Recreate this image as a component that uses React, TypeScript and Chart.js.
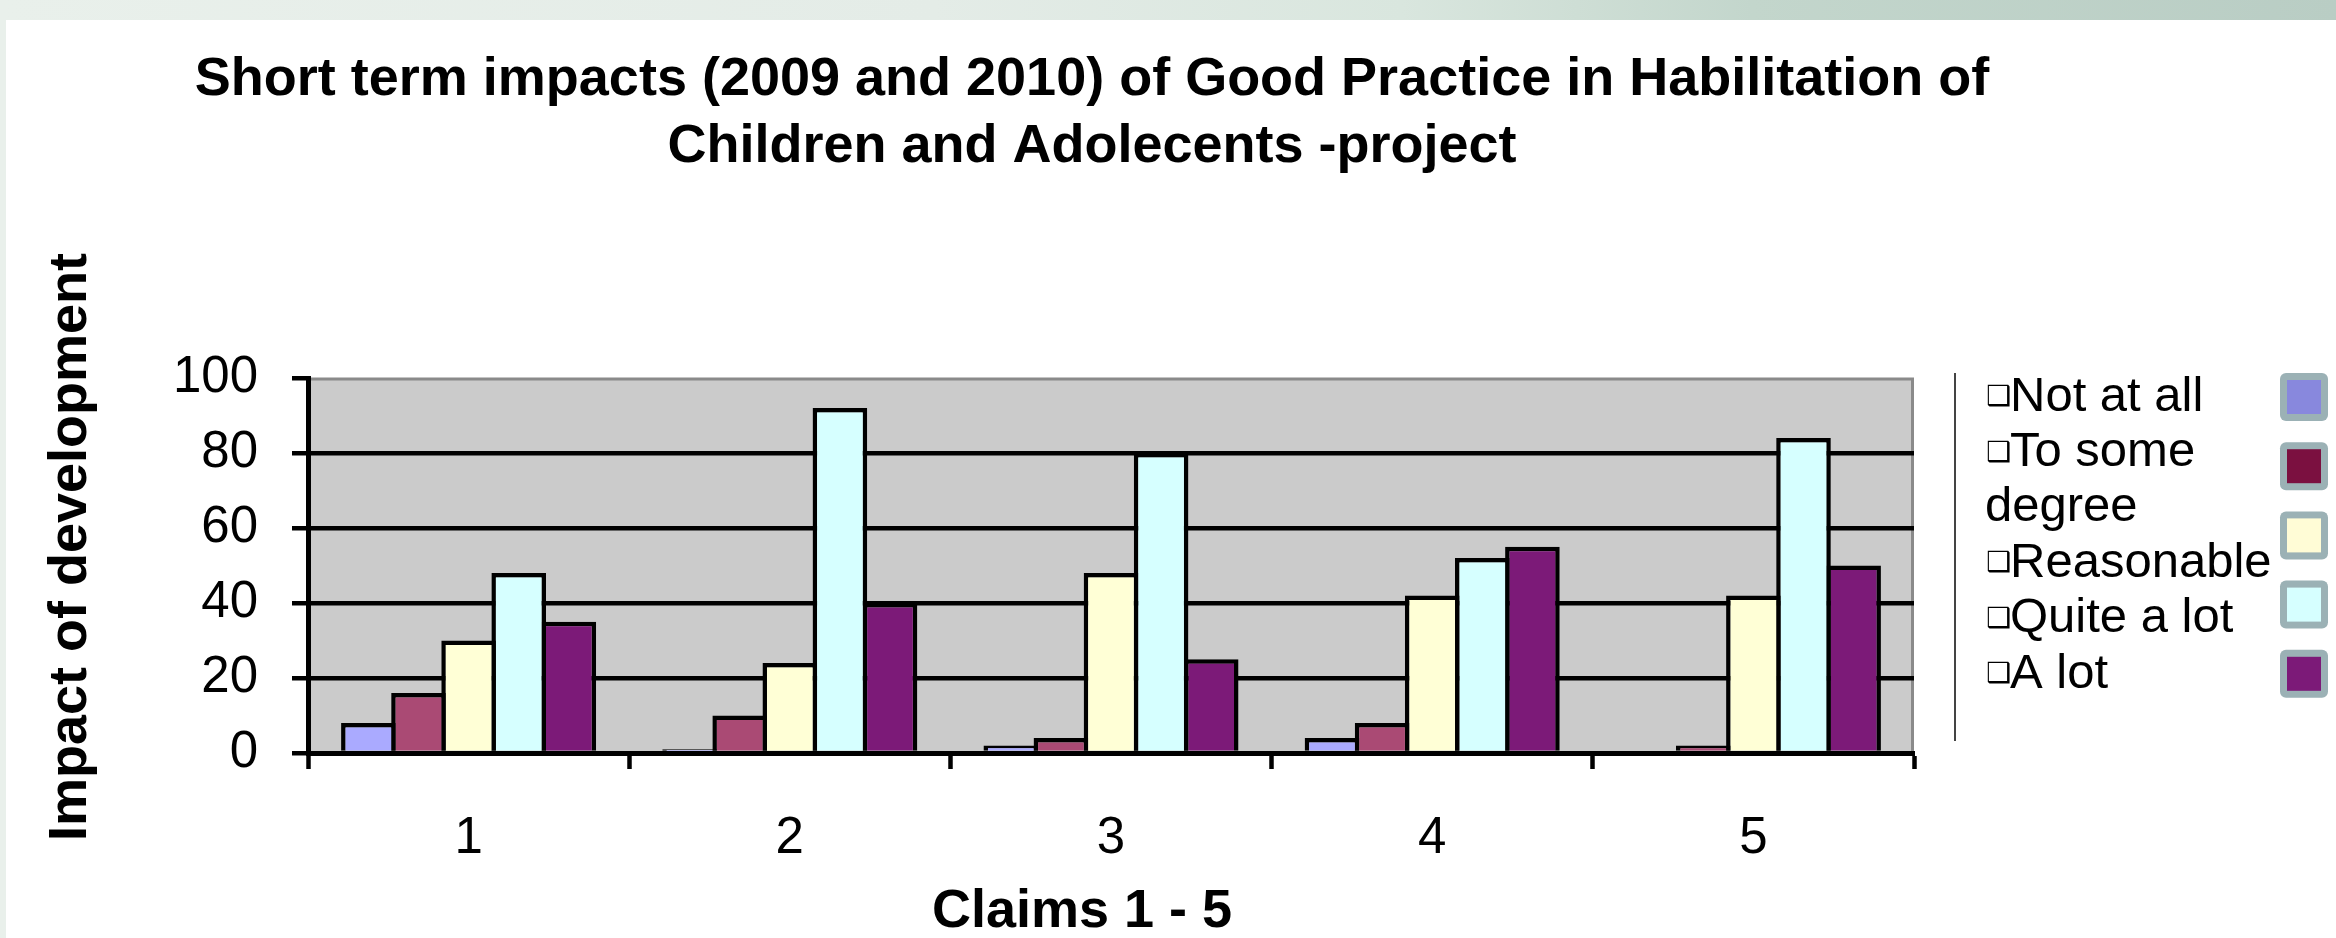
import React, { useEffect, useRef } from "react";
import { Chart, registerables } from "chart.js";

Chart.register(...registerables);

// ---- data ----
const claims = ["1", "2", "3", "4", "5"];
const seriesNames = ["Not at all", "To some degree", "Reasonable", "Quite a lot", "A lot"];
const notAtAll = [8, 1, 2, 4, 0];
const toSomeDegree = [16, 10, 4, 8, 2];
const reasonable = [30, 24, 48, 42, 42];
const quiteALot = [48, 92, 80, 52, 84];
const aLot = [35, 40, 25, 55, 50];
const seriesValues = [notAtAll, toSomeDegree, reasonable, quiteALot, aLot];
const barColors = ["#aaaaff", "#aa4a74", "#ffffd6", "#d6ffff", "#7c1a78"];
const legendColors = ["#8888dd", "#7b1040", "#fffcd6", "#d6ffff", "#7c1a78"];
const yMin = 0;
const yMax = 100;
const yStep = 20;
const titleLines = [
  "Short term impacts (2009 and 2010) of Good Practice in Habilitation of",
  "Children and Adolecents -project",
];
const yTitle = "Impact of development";
const xTitle = "Claims 1 - 5";

// ---- layout ----
const W = 2336;
const H = 938;
const FONT = "'Liberation Sans', Arial, Helvetica, sans-serif";
const PLOT = { left: 308, right: 1914, top: 378, bottom: 753 };

function wrap(ctx: CanvasRenderingContext2D, text: string, maxW: number): string[] {
  const words = text.split(" ");
  const lines: string[] = [];
  let cur = "";
  for (const w of words) {
    const t = cur ? cur + " " + w : w;
    if (ctx.measureText(t).width > maxW && cur) {
      lines.push(cur);
      cur = w;
    } else cur = t;
  }
  if (cur) lines.push(cur);
  return lines;
}

const decor = {
  id: "decor",
  beforeDraw(chart: any) {
    const { ctx, chartArea: a } = chart;
    ctx.save();
    ctx.fillStyle = "#cbcbcb";
    ctx.fillRect(a.left, a.top, a.right - a.left, a.bottom - a.top);
    ctx.strokeStyle = "#8a8a8a";
    ctx.lineWidth = 3;
    ctx.beginPath();
    ctx.moveTo(a.left, a.top + 1);
    ctx.lineTo(a.right - 1.5, a.top + 1);
    ctx.lineTo(a.right - 1.5, a.bottom);
    ctx.stroke();
    ctx.restore();
  },
  afterDraw(chart: any) {
    const { ctx } = chart;
    ctx.save();
    ctx.fillStyle = "#000";
    ctx.textBaseline = "middle";
    // chart title
    ctx.textAlign = "center";
    ctx.font = `bold 54px ${FONT}`;
    titleLines.forEach((ln, i) => ctx.fillText(ln, 1092, 80 + i * 67));
    // x axis title
    ctx.fillText(xTitle, 1082, 912);
    // y axis title
    ctx.save();
    ctx.translate(71, 547);
    ctx.rotate(-Math.PI / 2);
    ctx.fillText(yTitle, 0, 0);
    ctx.restore();

    // legend
    ctx.strokeStyle = "#444";
    ctx.lineWidth = 2;
    ctx.beginPath();
    ctx.moveTo(1955, 373);
    ctx.lineTo(1955, 741);
    ctx.stroke();

    ctx.textAlign = "left";
    let row = 0;
    const rowH = 55.4;
    seriesNames.forEach((name, i) => {
      ctx.font = `49px ${FONT}`;
      const lines = wrap(ctx, name, 290);
      lines.forEach((ln, j) => {
        const y = 397 + row * rowH;
        if (j === 0) {
          ctx.font = `bold 28px 'DejaVu Sans', sans-serif`;
          ctx.fillText("\u2751", 1986, y + 1);
          ctx.font = `49px ${FONT}`;
          ctx.fillText(ln, 2010, y);
        } else {
          ctx.font = `49px ${FONT}`;
          ctx.fillText(ln, 1985, y);
        }
        row++;
      });
      const cy = 397 + i * 69.2;
      const sx = 2280;
      const s = 48;
      ctx.fillStyle = "#9bb1b5";
      ctx.beginPath();
      (ctx as any).roundRect(sx, cy - s / 2, s, s, 6);
      ctx.fill();
      ctx.fillStyle = legendColors[i];
      ctx.fillRect(sx + 7, cy - s / 2 + 7, s - 14, s - 14);
      ctx.fillStyle = "#000";
    });
    ctx.restore();
  },
};

export default function App() {
  const ref = useRef<HTMLCanvasElement | null>(null);

  useEffect(() => {
    const canvas = ref.current;
    if (!canvas) return;
    const chart = new Chart(canvas, {
      type: "bar",
      data: {
        labels: claims,
        datasets: seriesNames.map((name, i) => ({
          label: name,
          data: seriesValues[i],
          backgroundColor: barColors[i],
          borderColor: "#000",
          borderWidth: 4.5,
          categoryPercentage: 0.78,
          barPercentage: 1.09,
        })),
      },
      options: {
        responsive: false,
        animation: false,
        devicePixelRatio: 1,
        layout: {
          padding: { left: 0, top: PLOT.top, right: W - PLOT.right, bottom: 0 },
        },
        plugins: {
          legend: { display: false },
          title: { display: false },
          tooltip: { enabled: false },
        },
        scales: {
          x: {
            offset: true,
            afterFit: (s: any) => {
              s.height = H - PLOT.bottom;
            },
            grid: {
              display: true,
              offset: true,
              drawOnChartArea: false,
              drawTicks: true,
              tickLength: 16,
              tickColor: "#000",
              tickWidth: 4.5,
            },
            border: { display: true, color: "#000", width: 5, z: 1 },
            ticks: {
              color: "#000",
              font: { family: FONT, size: 51 },
              padding: 39,
              maxRotation: 0,
            },
          },
          y: {
            min: yMin,
            max: yMax,
            afterFit: (s: any) => {
              s.width = PLOT.left;
            },
            grid: {
              color: (c: any) => (c.tick && c.tick.value === yMax ? "rgba(0,0,0,0)" : "#000"),
              lineWidth: 4.5,
              drawTicks: true,
              tickLength: 16,
              tickColor: "#000",
              tickWidth: 4.5,
            },
            border: { display: true, color: "#000", width: 5, z: 1 },
            ticks: {
              stepSize: yStep,
              color: "#000",
              font: { family: FONT, size: 51 },
              padding: 34,
            },
          },
        },
      },
      plugins: [decor],
    });
    return () => chart.destroy();
  }, []);

  return (
    <div
      style={{
        position: "fixed",
        left: 0,
        top: 0,
        width: W,
        height: H,
        overflow: "hidden",
        background:
          "linear-gradient(90deg, #e9f0eb 0%, #e4ece7 40%, #d9e6de 60%, #c3d6cc 75%, #b9cdc4 100%)",
      }}
    >
      <div
        style={{
          position: "absolute",
          left: 6,
          top: 20,
          right: 0,
          bottom: 0,
          background: "#fff",
        }}
      />
      <canvas
        ref={ref}
        width={W}
        height={H}
        style={{ position: "absolute", left: 0, top: 0, width: W, height: H }}
      />
    </div>
  );
}
